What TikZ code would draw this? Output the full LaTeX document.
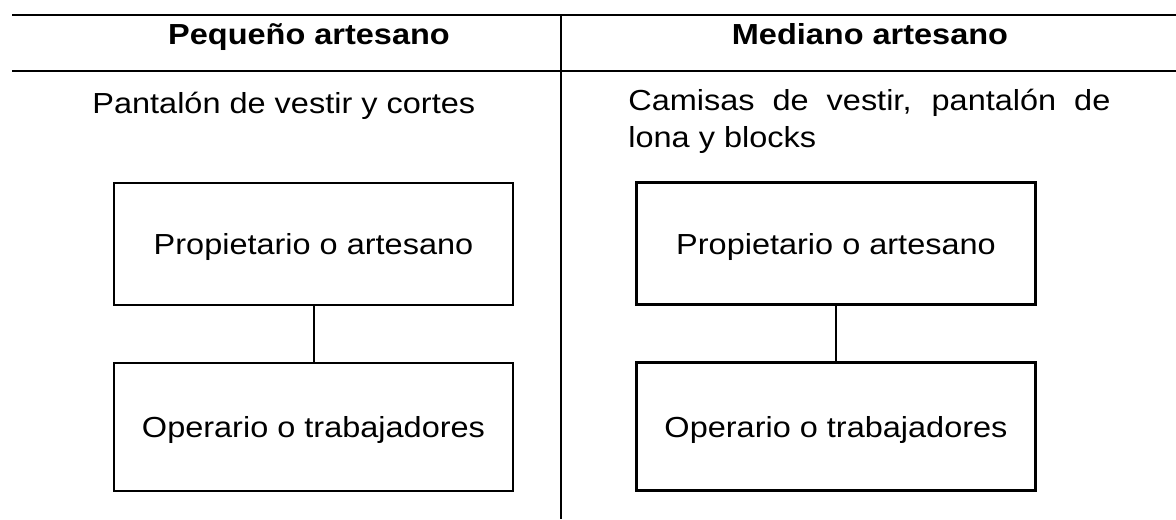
\documentclass[tikz,border=0pt]{standalone}
\usepackage{fontspec}
\setmainfont{Liberation Sans}[FakeStretch=1.12]
\usetikzlibrary{positioning}

\tikzset{
  caja/.style={draw, line width=1.2pt, minimum width=199.5pt, text depth=0pt, inner sep=0pt},
  titulo/.style={anchor=base, inner sep=0pt, font=\bfseries},
  texto/.style={anchor=base west, inner sep=0pt},
  raya/.style={line width=1pt},
}

\begin{document}
\begin{tikzpicture}[x=0.5pt, y=-0.5pt]
  \fontsize{14.5pt}{18.5pt}\selectfont
  \useasboundingbox (0,0) rectangle (1176,519);

  \coordinate (t1) at (12,15);
  \coordinate (t2) at (1176,15);
  \coordinate (h1) at (12,71);
  \coordinate (h2) at (1176,71);
  \coordinate (v1) at (561,15);
  \coordinate (v2) at (561,519);

  % Tabla
  \draw[raya] (t1) -- (t2);
  \draw[raya] (h1) -- (h2);
  \draw[raya] (v1) -- (v2);

  % Encabezados
  \node[titulo] (pequeno) at (309,45) {Pequeño artesano};
  \node[titulo] (mediano) at (870,45) {Mediano artesano};

  % Productos
  \node[texto] (prodP) at (92,113) {Pantalón de vestir y cortes};
  \node[texto, text width=241pt, align=justify] (prodM) at (628,111)
    {Camisas de vestir, pantalón de lona y blocks};

  % Pequeño artesano
  \node[caja, minimum height=61pt] (propP) at (313.5,244) {Propietario o artesano};
  \node[caja, minimum height=64pt] (operP) at (313.5,427) {Operario o trabajadores};
  \draw[raya] (propP) -- (operP);

  % Mediano artesano
  \node[caja, minimum height=61pt] (propM) at (836,243.5) {Propietario o artesano};
  \node[caja, minimum height=64pt] (operM) at (836,426.5) {Operario o trabajadores};
  \draw[raya] (propM) -- (operM);
\end{tikzpicture}
\end{document}
